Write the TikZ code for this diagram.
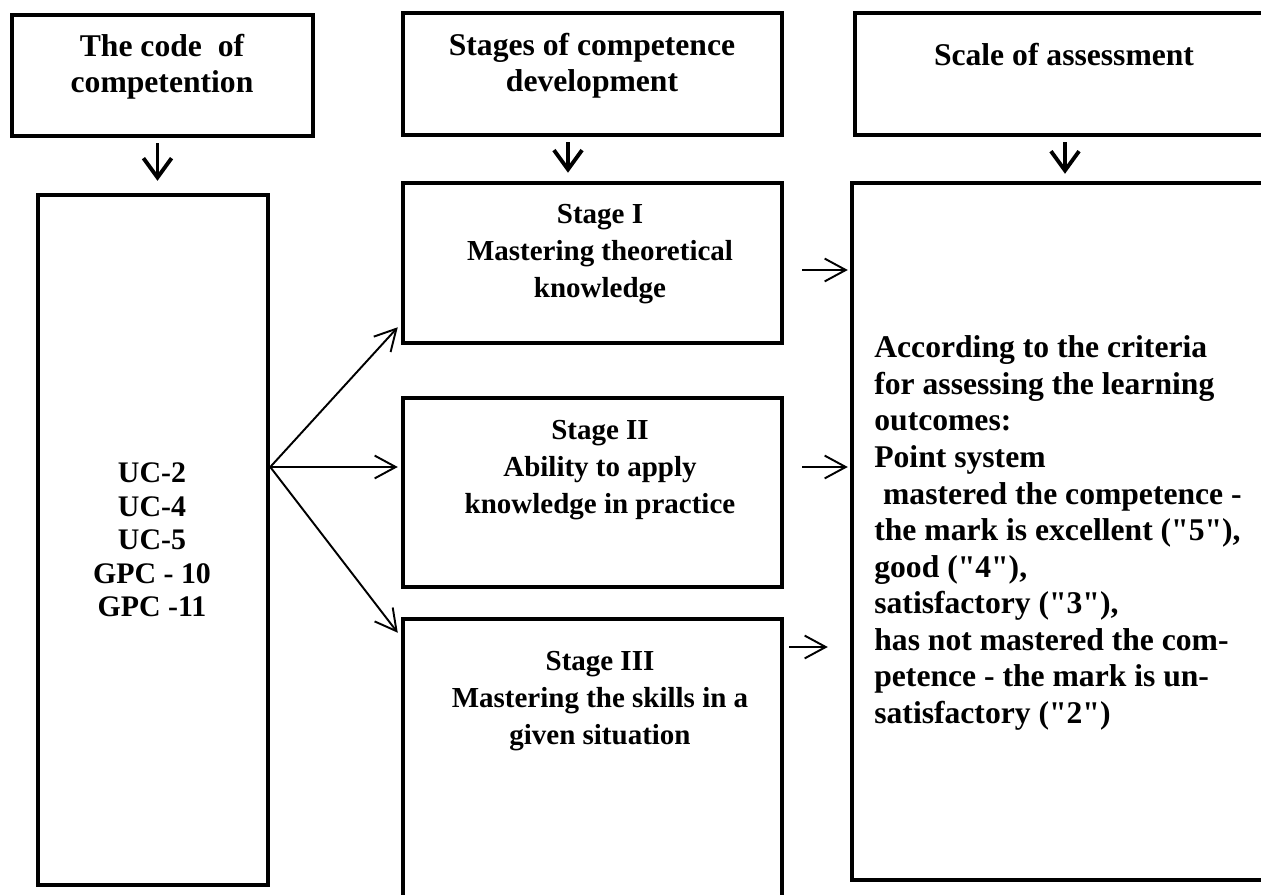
\documentclass[tikz,border=0pt]{standalone}
\usepackage{fontspec}
\setmainfont{Liberation Serif}
\usetikzlibrary{arrows.meta,calc}

\newcommand{\qt}{\textquotedbl}

\tikzset{
    box/.style={draw=black, line width=2.6pt, inner sep=0pt},
    boxtext/.style={font=\bfseries\fontsize{18}{20.5}\selectfont, align=center, inner sep=0pt},
    stagetext/.style={boxtext, font=\bfseries\fontsize{16.5}{21}\selectfont},
    down arrow/.style={line width=2.2pt, -{Straight Barb[length=11pt, width=16pt]}},
    link/.style={line width=1.1pt, -{Straight Barb[length=12pt, width=13pt]}},
}

\begin{document}
\begin{tikzpicture}[x=0.02cm, y=-0.02cm]
    \useasboundingbox (0,0) rectangle (1261,895);
    \clip (0,0) rectangle (1261,895);

    % headers
    \node[box, minimum width=6.02cm, minimum height=2.42cm] (code) at (162.5,75.5) {};
    \node[box, minimum width=7.58cm, minimum height=2.44cm] (stages) at (592.5,74) {};
    \node[box, minimum width=8.9cm, minimum height=2.44cm] (scale) at (1077.5,74) {};
    \node[boxtext] (codeText) at (162,67) {The code\ \ of\\competention};
    \node[boxtext] (stagesText) at (592,66) {Stages of competence\\development};
    \node[boxtext] (scaleText) at (1064,55) {Scale of assessment};

    % body boxes
    \node[box, minimum width=4.6cm, minimum height=13.8cm] (codes) at (153,540) {};
    \node[box, minimum width=7.58cm, minimum height=3.2cm] (stageA) at (592.5,263) {};
    \node[box, minimum width=7.58cm, minimum height=3.78cm] (stageB) at (592.5,492.5) {};
    \node[box, minimum width=7.58cm, minimum height=6.22cm] (stageC) at (592.5,774.5) {};
    \node[box, minimum width=8.96cm, minimum height=13.94cm] (result) at (1076,531.5) {};

    \node[boxtext, font=\bfseries\fontsize{17}{19}\selectfont] (codesText) at (152,540)
        {UC-2\\UC-4\\UC-5\\GPC - 10\\GPC -11};
    \node[stagetext] (stageAText) at (600,254) {Stage I\\Mastering theoretical\\knowledge};
    \node[stagetext] (stageBText) at (600,470) {Stage II\\Ability to apply\\knowledge in practice};
    \node[stagetext] (stageCText) at (600,701) {Stage III\\Mastering the skills in a\\given situation};
    \node[boxtext, font=\bfseries\fontsize{18}{20.8}\selectfont, align=left, anchor=west] (resultText) at (874,533)
        {According to the criteria\\for assessing the learning\\outcomes:\\Point system\\
         \hphantom{i}mastered the competence -\\the mark is excellent (\qt5\qt),\\good (\qt4\qt),\\
         satisfactory (\qt3\qt),\\has not mastered the com-\\petence - the mark is un-\\satisfactory (\qt2\qt)};

    % down arrows
    \draw[down arrow, shorten >=0.24cm] ($(code.south)+(-5,5)$) coordinate (c1) -- (c1 |- codes.north);
    \draw[down arrow, shorten >=0.16cm] ($(stages.south)+(-24.5,5)$) coordinate (c2) -- (c2 |- stageA.north);
    \draw[down arrow, shorten >=0.14cm] ($(scale.south)+(-12.5,5)$) coordinate (c3) -- (c3 |- result.north);

    % fan to the stages
    \coordinate (fan) at ($(codes.east)+(0,-73)$);
    \draw[link] (fan) -- ($(stageA.south west)+(-3,-18)$);
    \draw[link, shorten >=0.06cm] (fan) -- (fan -| stageB.west);
    \draw[link] (fan) -- ($(stageC.north west)+(-3,16)$);

    % stages to the scale
    \draw[link] ($(stageA.east)+(18,7)$) -- ($(result.west |- stageA.east)+(-2,7)$);
    \draw[link] ($(stageB.east)+(18,-25.5)$) -- ($(result.west |- stageB.east)+(-2,-25.5)$);
    \draw[link] ($(stageC.east)+(5,-127.5)$) -- ($(result.west |- stageC.east)+(-22,-127.5)$);
\end{tikzpicture}
\end{document}
